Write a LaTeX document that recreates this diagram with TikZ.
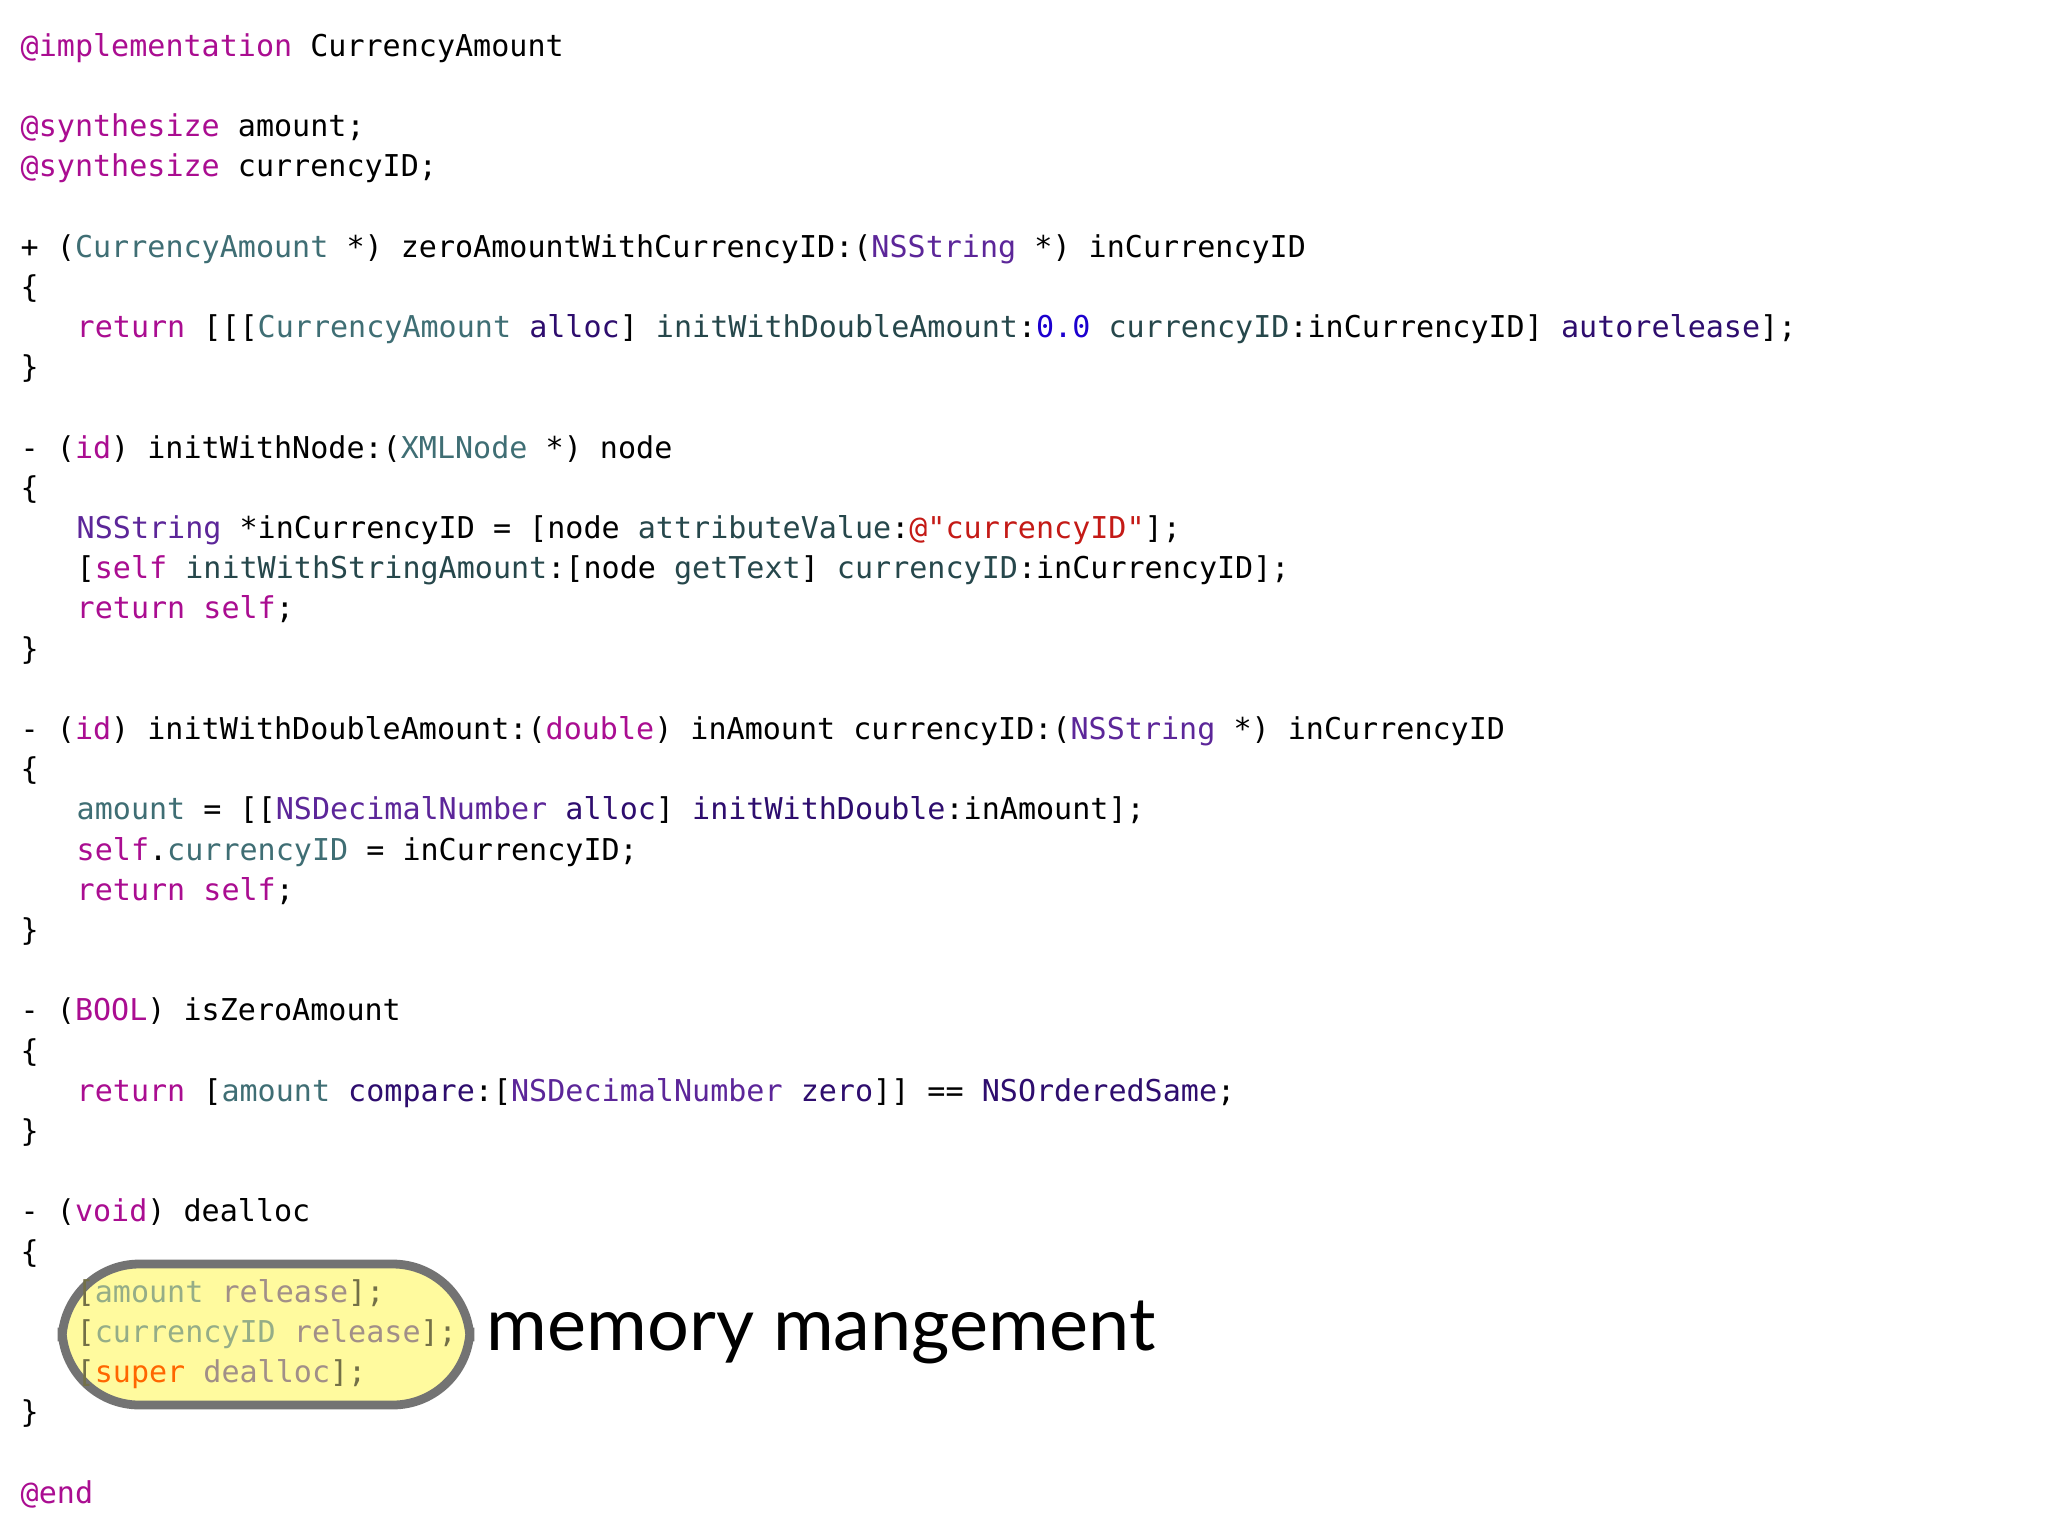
\documentclass[tikz,border=0pt]{standalone}
\usepackage{fontspec}
\setmonofont{DejaVu Sans Mono}
\newfontfamily\labfont{Lato}
\definecolor{kw}{HTML}{AA0D91}
\definecolor{pc}{HTML}{3F6E74}
\definecolor{pm}{HTML}{26474B}
\definecolor{sc}{HTML}{5C2699}
\definecolor{sm}{HTML}{2E0D6E}
\definecolor{nm}{HTML}{1C00CF}
\definecolor{st}{HTML}{C41A16}
\definecolor{boxf}{HTML}{FFFA9E}
\newcommand\K[1]{\textcolor{kw}{#1}}
\newcommand\PC[1]{\textcolor{pc}{#1}}
\newcommand\PM[1]{\textcolor{pm}{#1}}
\newcommand\SC[1]{\textcolor{sc}{#1}}
\newcommand\SM[1]{\textcolor{sm}{#1}}
\newcommand\NM[1]{\textcolor{nm}{#1}}
\newcommand\ST[1]{\textcolor{st}{#1}}
\newcommand\LB{\{}
\newcommand\RB{\}}
\begin{document}
\begin{tikzpicture}[x=0.01cm,y=-0.01cm,
  code/.style={anchor=base west,inner sep=0pt,font=\ttfamily\fontsize{8.55pt}{10pt}\selectfont},
  lab/.style={anchor=base west,inner sep=0pt,font=\labfont\fontsize{21pt}{24pt}\selectfont}]
\useasboundingbox (0,0) rectangle (2048,1536);
\fill[white] (0,0) rectangle (2048,1536);
\newcommand\Y[1]{56+40.2*#1}
\node[code] (l0) at (20,{\Y{0}}) {\K{@implementation} CurrencyAmount};
\node[code] (l2) at (20,{\Y{2}}) {\K{@synthesize} amount;};
\node[code] (l3) at (20,{\Y{3}}) {\K{@synthesize} currencyID;};
\node[code] (l5) at (20,{\Y{5}}) {+ (\PC{CurrencyAmount} *) zeroAmountWithCurrencyID:(\SC{NSString} *) inCurrencyID};
\node[code] (l6) at (20,{\Y{6}}) {\LB};
\node[code] (l7) at (76,{\Y{7}}) {\K{return} [[[\PC{CurrencyAmount} \SM{alloc}] \PM{initWithDoubleAmount}:\NM{0.0} \PM{currencyID}:inCurrencyID] \SM{autorelease}];};
\node[code] (l8) at (20,{\Y{8}}) {\RB};
\node[code] (l10) at (20,{\Y{10}}) {- (\K{id}) initWithNode:(\PC{XMLNode} *) node};
\node[code] (l11) at (20,{\Y{11}}) {\LB};
\node[code] (l12) at (76,{\Y{12}}) {\SC{NSString} *inCurrencyID = [node \PM{attributeValue}:\ST{@"currencyID"}];};
\node[code] (l13) at (76,{\Y{13}}) {[\K{self} \PM{initWithStringAmount}:[node \PM{getText}] \PM{currencyID}:inCurrencyID];};
\node[code] (l14) at (76,{\Y{14}}) {\K{return} \K{self};};
\node[code] (l15) at (20,{\Y{15}}) {\RB};
\node[code] (l17) at (20,{\Y{17}}) {- (\K{id}) initWithDoubleAmount:(\K{double}) inAmount currencyID:(\SC{NSString} *) inCurrencyID};
\node[code] (l18) at (20,{\Y{18}}) {\LB};
\node[code] (l19) at (76,{\Y{19}}) {\PC{amount} = [[\SC{NSDecimalNumber} \SM{alloc}] \SM{initWithDouble}:inAmount];};
\node[code] (l20) at (76,{\Y{20}}) {\K{self}.\PC{currencyID} = inCurrencyID;};
\node[code] (l21) at (76,{\Y{21}}) {\K{return} \K{self};};
\node[code] (l22) at (20,{\Y{22}}) {\RB};
\node[code] (l24) at (20,{\Y{24}}) {- (\K{BOOL}) isZeroAmount};
\node[code] (l25) at (20,{\Y{25}}) {\LB};
\node[code] (l26) at (76,{\Y{26}}) {\K{return} [\PC{amount} \SM{compare}:[\SC{NSDecimalNumber} \SM{zero}]] == \SM{NSOrderedSame};};
\node[code] (l27) at (20,{\Y{27}}) {\RB};
\node[code] (l29) at (20,{\Y{29}}) {- (\K{void}) dealloc};
\node[code] (l30) at (20,{\Y{30}}) {\LB};
\draw[rounded corners=22, fill=boxf, draw=black!55, line width=2.5pt] (62,1264) rectangle (470,1405);
\node[code,text=black!55!boxf] (l31) at (76,{\Y{31}}) {[\textcolor{pc!55!boxf}{amount} \textcolor{sm!45!boxf}{release}];};
\node[code,text=black!55!boxf] (l32) at (76,{\Y{32}}) {[\textcolor{pc!55!boxf}{currencyID} \textcolor{sm!45!boxf}{release}];};
\node[code,text=black!55!boxf] (l33) at (76,{\Y{33}}) {[\textcolor{orange!80!red}{super} \textcolor{sm!45!boxf}{dealloc}];};
\node[code] (l34) at (20,{\Y{34}}) {\RB};
\node[code] (l36) at (20,{\Y{36}}) {\K{@end}};
\node[lab] (mm) at (486,1350) {memory mangement};
\end{tikzpicture}
\end{document}
